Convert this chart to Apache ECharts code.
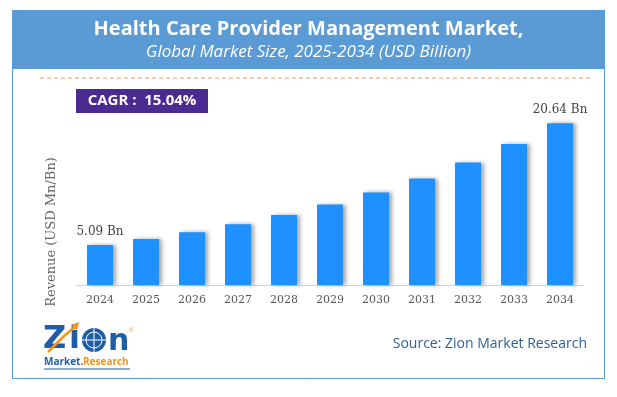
<!DOCTYPE html>
<html>
<head>
<meta charset="utf-8">
<script src="https://cdn.jsdelivr.net/npm/echarts@6/dist/echarts.min.js"></script>
<style>
  html, body { margin: 0; padding: 0; background: #fff; }
  #chart { width: 617px; height: 397px; }
</style>
</head>
<body>
<div id="chart"></div>
<script>
// chart data
const years = ['2024', '2025', '2026', '2027', '2028', '2029', '2030', '2031', '2032', '2033', '2034'];
const revenue = [5.09, 5.86, 6.74, 7.75, 8.92, 10.26, 11.80, 13.58, 15.62, 17.97, 20.64];
const labelledYears = ['2024', '2034']; // only first and last bars carry a value label

const chartTitle = 'Health Care Provider Management Market,';
const chartSubtitle = 'Global Market Size, 2025-2034 (USD Billion)';
const cagrText = 'CAGR :  15.04%';
const axisName = 'Revenue (USD Mn/Bn)';
const sourceText = 'Source: Zion Market Research';

const serif = '"DejaVu Serif", serif';
const sans = '"Open Sans", "Noto Sans", sans-serif';

const barData = revenue.map((v, i) => ({
    value: v,
    label: { show: labelledYears.includes(years[i]) }
}));

const chart = echarts.init(document.getElementById('chart'));
chart.setOption({
    animation: false,
    title: {
        text: chartTitle,
        subtext: chartSubtitle,
        left: 'center',
        top: 14,
        itemGap: 5,
        textStyle: { color: '#fff', fontFamily: sans, fontWeight: 'bold', fontSize: 20 },
        subtextStyle: { color: '#fff', fontFamily: sans, fontStyle: 'italic', fontSize: 17 }
    },
    grid: { left: 77, right: 34, top: 89, bottom: 112, containLabel: false },
    xAxis: {
        type: 'category',
        data: years,
        axisLine: { lineStyle: { color: '#d0d0d0', width: 1 } },
        axisTick: { show: false },
        axisLabel: { color: '#555', fontFamily: serif, fontSize: 11, margin: 10 }
    },
    yAxis: {
        type: 'value',
        min: 0,
        max: 25,
        show: false,
        splitLine: { show: false }
    },
    series: [{
        type: 'bar',
        data: barData,
        barWidth: 26,
        itemStyle: {
            color: '#1E90FF',
            shadowColor: 'rgba(0,0,0,0.35)',
            shadowBlur: 4,
            shadowOffsetX: 3
        },
        label: {
            position: 'top',
            distance: 7,
            color: '#444',
            fontFamily: serif,
            fontSize: 12,
            formatter: p => p.value.toFixed(2) + ' Bn'
        }
    }],
    graphic: [
        // outer frame and header band
        { type: 'rect', z: -10, shape: { x: 12.5, y: 10.5, width: 592, height: 368 },
          style: { fill: '#fff', stroke: '#5B9BD5', lineWidth: 1 } },
        { type: 'rect', z: -5, shape: { x: 12, y: 10, width: 593, height: 59 },
          style: { fill: '#5B9BD5' } },
        // orange dashed divider
        { type: 'line', shape: { x1: 40, y1: 78, x2: 590, y2: 78 },
          style: { stroke: '#F79646', lineWidth: 1, lineDash: [4, 3] } },
        // CAGR badge
        { type: 'rect', shape: { x: 76, y: 89, width: 132, height: 24 },
          style: { fill: '#4B2A92' } },
        { type: 'text', x: 142, y: 101,
          style: { text: cagrText, fill: '#fff', font: 'bold 15px ' + sans, align: 'center', verticalAlign: 'middle' } },
        // y axis name
        { type: 'text', x: 52, y: 232, rotation: Math.PI / 2,
          style: { text: axisName, fill: '#666', font: '13px ' + serif, align: 'center', verticalAlign: 'middle' } },
        // source
        { type: 'text', x: 587, y: 344,
          style: { text: sourceText, fill: '#2F5F98', font: '14px ' + sans, align: 'right', verticalAlign: 'middle' } },
        // logo
        { type: 'text', x: 43, y: 340,
          style: { text: 'Z', fill: '#1F5DA8', font: 'bold 32px "DejaVu Sans", sans-serif', verticalAlign: 'middle' } },
        { type: 'text', x: 69, y: 340,
          style: { text: 'i', fill: '#1F5DA8', font: 'bold 32px "DejaVu Sans", sans-serif', verticalAlign: 'middle' } },
        { type: 'circle', shape: { cx: 94, cy: 340, r: 12 },
          style: { fill: '#1F5DA8' } },
        { type: 'circle', shape: { cx: 94, cy: 340, r: 8 },
          style: { fill: 'none', stroke: '#fff', lineWidth: 1 } },
        { type: 'line', shape: { x1: 82, y1: 340, x2: 106, y2: 340 },
          style: { stroke: '#fff', lineWidth: 1 } },
        { type: 'line', shape: { x1: 94, y1: 328, x2: 94, y2: 352 },
          style: { stroke: '#fff', lineWidth: 1 } },
        { type: 'text', x: 108, y: 342,
          style: { text: 'n', fill: '#1F5DA8', font: 'bold 30px "DejaVu Sans", sans-serif', verticalAlign: 'middle' } },
        { type: 'polyline', shape: { points: [[48, 352], [64, 336], [76, 326]] },
          style: { stroke: '#F7941D', lineWidth: 2.5, fill: 'none' } },
        { type: 'polygon', shape: { points: [[79, 322], [71, 325], [77, 330]] },
          style: { fill: '#F7941D' } },
        { type: 'text', x: 129, y: 327,
          style: { text: '®', fill: '#F7941D', font: '6px sans-serif' } },
        { type: 'text', x: 44, y: 362,
          style: { text: 'Market.', fill: '#1F5DA8', font: 'bold 10px ' + sans, verticalAlign: 'middle' } },
        { type: 'text', x: 83, y: 362,
          style: { text: 'Research', fill: '#F7941D', font: 'bold 10px ' + sans, verticalAlign: 'middle' } },
        { type: 'line', shape: { x1: 44, y1: 369, x2: 130, y2: 369 },
          style: { stroke: '#1F5DA8', lineWidth: 1 } }
    ]
});
</script>
</body>
</html>
